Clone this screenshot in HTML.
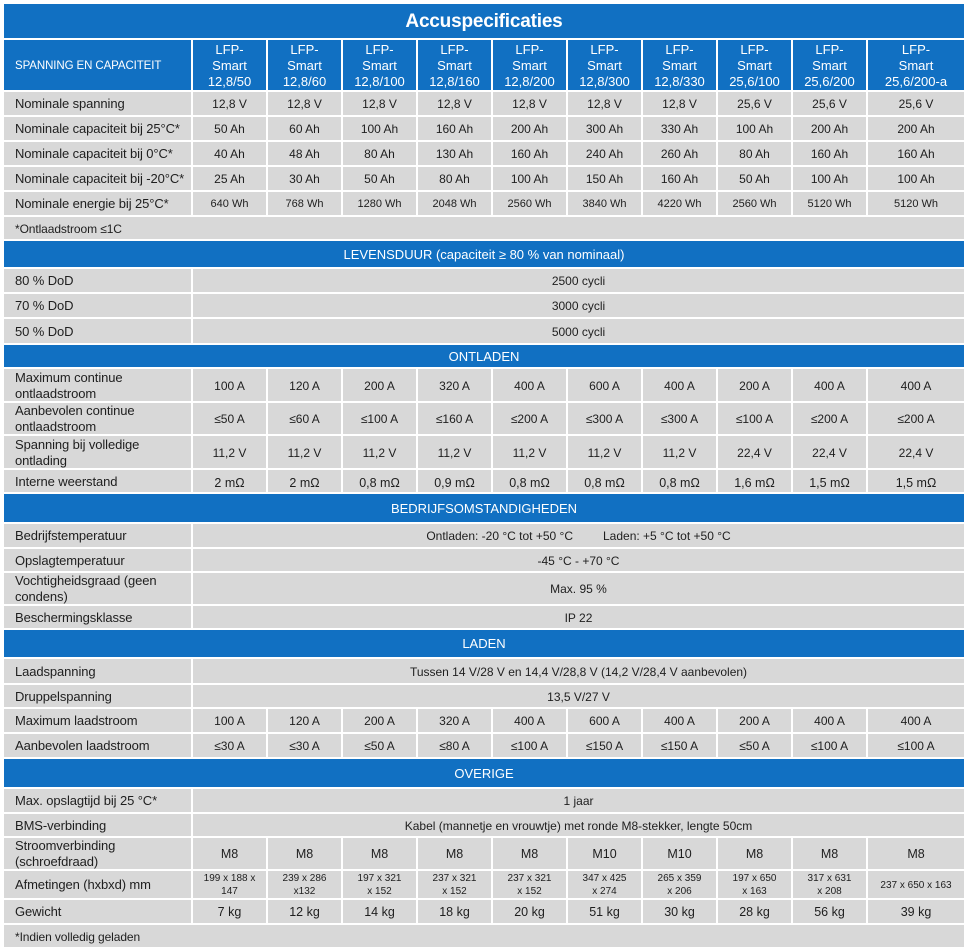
<!DOCTYPE html>
<html><head><meta charset="utf-8">
<style>
html,body{margin:0;padding:0;background:#fff;}
body{width:966px;height:951px;position:relative;overflow:hidden;font-family:"Liberation Sans",Arial,sans-serif;color:#1e1e1e;}
.g{position:absolute;left:4px;top:4px;width:960px;display:grid;
grid-template-columns:187px repeat(9,73px) 96px;
grid-template-rows:34px 50px 23px 23px 23px 23px 23px 22px 26px 23px 23px 24px 22px 32px 31px 32px 22px 28px 23px 22px 31px 22px 27px 24px 22px 23px 23px 28px 23px 22px 31px 27px 23px 22px;
gap:2px;}
.g>div{background:#d8d8d8;display:flex;align-items:center;justify-content:center;text-align:center;font-size:12px;line-height:16px;white-space:nowrap;padding-top:1px;box-sizing:border-box;}
.g>div.l{justify-content:flex-start;text-align:left;padding-left:11px;letter-spacing:-0.1px;font-size:13px;}
.g>div.b{background:#1170c2;color:#fff;grid-column:1/-1;font-size:13px;}
.g>div.h{background:#1170c2;color:#fff;font-size:13px;padding-top:2px;}
.g>div.t{background:#1170c2;color:#fff;grid-column:1/-1;font-size:19px;font-weight:bold;letter-spacing:-0.2px;}
.s{grid-column:2/-1;}
.f{grid-column:1/-1;}
.g>div.e{font-size:11px;}
.g>div.w{font-size:12.5px;padding-top:3px;}
.g>div.d{font-size:10px;line-height:13px;}
.g>div.m{font-size:12.5px;}
</style></head><body>
<div class="g">
<div class="t">Accuspecificaties</div>

<div class="h l" style="font-size:11.5px;">SPANNING EN CAPACITEIT</div>
<div class="h">LFP-<br>Smart<br>12,8/50</div>
<div class="h">LFP-<br>Smart<br>12,8/60</div>
<div class="h">LFP-<br>Smart<br>12,8/100</div>
<div class="h">LFP-<br>Smart<br>12,8/160</div>
<div class="h">LFP-<br>Smart<br>12,8/200</div>
<div class="h">LFP-<br>Smart<br>12,8/300</div>
<div class="h">LFP-<br>Smart<br>12,8/330</div>
<div class="h">LFP-<br>Smart<br>25,6/100</div>
<div class="h">LFP-<br>Smart<br>25,6/200</div>
<div class="h">LFP-<br>Smart<br>25,6/200-a</div>

<div class="l">Nominale spanning</div>
<div>12,8 V</div><div>12,8 V</div><div>12,8 V</div><div>12,8 V</div><div>12,8 V</div><div>12,8 V</div><div>12,8 V</div><div>25,6 V</div><div>25,6 V</div><div>25,6 V</div>

<div class="l">Nominale capaciteit bij 25°C*</div>
<div>50 Ah</div><div>60 Ah</div><div>100 Ah</div><div>160 Ah</div><div>200 Ah</div><div>300 Ah</div><div>330 Ah</div><div>100 Ah</div><div>200 Ah</div><div>200 Ah</div>

<div class="l">Nominale capaciteit bij 0°C*</div>
<div>40 Ah</div><div>48 Ah</div><div>80 Ah</div><div>130 Ah</div><div>160 Ah</div><div>240 Ah</div><div>260 Ah</div><div>80 Ah</div><div>160 Ah</div><div>160 Ah</div>

<div class="l">Nominale capaciteit bij -20°C*</div>
<div>25 Ah</div><div>30 Ah</div><div>50 Ah</div><div>80 Ah</div><div>100 Ah</div><div>150 Ah</div><div>160 Ah</div><div>50 Ah</div><div>100 Ah</div><div>100 Ah</div>

<div class="l">Nominale energie bij 25°C*</div>
<div class="e">640 Wh</div><div class="e">768 Wh</div><div class="e">1280 Wh</div><div class="e">2048 Wh</div><div class="e">2560 Wh</div><div class="e">3840 Wh</div><div class="e">4220 Wh</div><div class="e">2560 Wh</div><div class="e">5120 Wh</div><div class="e">5120 Wh</div>

<div class="l f" style="font-size:12px;">*Ontlaadstroom ≤1C</div>

<div class="b">LEVENSDUUR (capaciteit ≥ 80 % van nominaal)</div>
<div class="l">80 % DoD</div><div class="s">2500 cycli</div>
<div class="l">70 % DoD</div><div class="s">3000 cycli</div>
<div class="l">50 % DoD</div><div class="s">5000 cycli</div>

<div class="b">ONTLADEN</div>
<div class="l">Maximum continue<br>ontlaadstroom</div>
<div>100 A</div><div>120 A</div><div>200 A</div><div>320 A</div><div>400 A</div><div>600 A</div><div>400 A</div><div>200 A</div><div>400 A</div><div>400 A</div>
<div class="l">Aanbevolen continue<br>ontlaadstroom</div>
<div>≤50 A</div><div>≤60 A</div><div>≤100 A</div><div>≤160 A</div><div>≤200 A</div><div>≤300 A</div><div>≤300 A</div><div>≤100 A</div><div>≤200 A</div><div>≤200 A</div>
<div class="l">Spanning bij volledige<br>ontlading</div>
<div>11,2 V</div><div>11,2 V</div><div>11,2 V</div><div>11,2 V</div><div>11,2 V</div><div>11,2 V</div><div>11,2 V</div><div>22,4 V</div><div>22,4 V</div><div>22,4 V</div>
<div class="l">Interne weerstand</div>
<div class="w">2 mΩ</div><div class="w">2 mΩ</div><div class="w">0,8 mΩ</div><div class="w">0,9 mΩ</div><div class="w">0,8 mΩ</div><div class="w">0,8 mΩ</div><div class="w">0,8 mΩ</div><div class="w">1,6 mΩ</div><div class="w">1,5 mΩ</div><div class="w">1,5 mΩ</div>

<div class="b">BEDRIJFSOMSTANDIGHEDEN</div>
<div class="l">Bedrijfstemperatuur</div><div class="s">Ontladen: -20 °C tot +50 °C<span style="display:inline-block;width:30px"></span>Laden: +5 °C tot +50 °C</div>
<div class="l">Opslagtemperatuur</div><div class="s">-45 °C - +70 °C</div>
<div class="l">Vochtigheidsgraad (geen<br>condens)</div><div class="s">Max. 95 %</div>
<div class="l">Beschermingsklasse</div><div class="s">IP 22</div>

<div class="b">LADEN</div>
<div class="l">Laadspanning</div><div class="s">Tussen 14 V/28 V en 14,4 V/28,8 V (14,2 V/28,4 V aanbevolen)</div>
<div class="l">Druppelspanning</div><div class="s">13,5 V/27 V</div>
<div class="l">Maximum laadstroom</div>
<div>100 A</div><div>120 A</div><div>200 A</div><div>320 A</div><div>400 A</div><div>600 A</div><div>400 A</div><div>200 A</div><div>400 A</div><div>400 A</div>
<div class="l">Aanbevolen laadstroom</div>
<div>≤30 A</div><div>≤30 A</div><div>≤50 A</div><div>≤80 A</div><div>≤100 A</div><div>≤150 A</div><div>≤150 A</div><div>≤50 A</div><div>≤100 A</div><div>≤100 A</div>

<div class="b">OVERIGE</div>
<div class="l">Max. opslagtijd bij 25 °C*</div><div class="s">1 jaar</div>
<div class="l">BMS-verbinding</div><div class="s">Kabel (mannetje en vrouwtje) met ronde M8-stekker, lengte 50cm</div>
<div class="l">Stroomverbinding<br>(schroefdraad)</div>
<div class="m">M8</div><div class="m">M8</div><div class="m">M8</div><div class="m">M8</div><div class="m">M8</div><div class="m">M10</div><div class="m">M10</div><div class="m">M8</div><div class="m">M8</div><div class="m">M8</div>
<div class="l">Afmetingen (hxbxd) mm</div>
<div class="d">199 x 188 x<br>147</div><div class="d">239 x 286<br>x132</div><div class="d">197 x 321<br>x 152</div><div class="d">237 x 321<br>x 152</div><div class="d">237 x 321<br>x 152</div><div class="d">347 x 425<br>x 274</div><div class="d">265 x 359<br>x 206</div><div class="d">197 x 650<br>x 163</div><div class="d">317 x 631<br>x 208</div><div class="d">237 x 650 x 163</div>
<div class="l">Gewicht</div>
<div class="m">7 kg</div><div class="m">12 kg</div><div class="m">14 kg</div><div class="m">18 kg</div><div class="m">20 kg</div><div class="m">51 kg</div><div class="m">30 kg</div><div class="m">28 kg</div><div class="m">56 kg</div><div class="m">39 kg</div>
<div class="l f" style="font-size:12px;">*Indien volledig geladen</div>
</div>
</body></html>
